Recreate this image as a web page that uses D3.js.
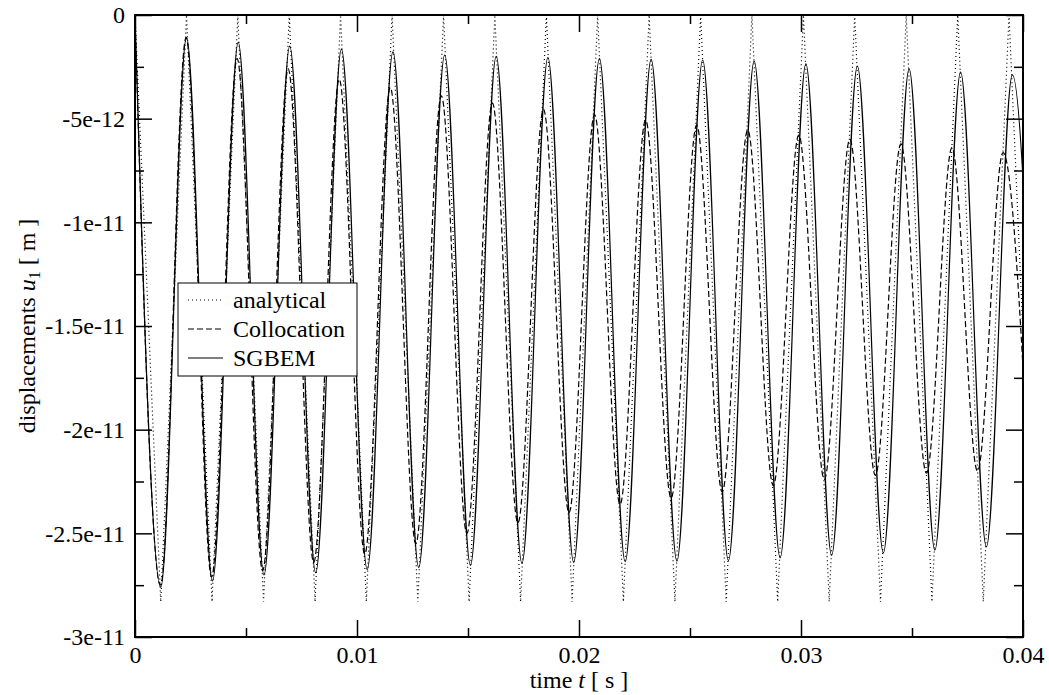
<!DOCTYPE html>
<html>
<head>
<meta charset="utf-8">
<script src="https://cdn.jsdelivr.net/npm/d3@7"></script>
<style type="text/css">
body { margin: 0; background: #fff; }
.line { fill: none; stroke: #000; stroke-width: 1.2; }
</style>
</head>
<body>
<div id="chart"></div>
<script>

// extremum points (time in s, displacement in m)
var analyticalT = [0, 0.00116, 0.00232, 0.00347, 0.00463, 0.00579, 0.00695, 0.00811, 0.00926, 0.01042,
  0.01158, 0.01274, 0.01390, 0.01505, 0.01621, 0.01737, 0.01853, 0.01969, 0.02084, 0.02200,
  0.02316, 0.02432, 0.02548, 0.02663, 0.02779, 0.02895, 0.03011, 0.03127, 0.03242, 0.03358,
  0.03474, 0.03590, 0.03706, 0.03821, 0.03937, 0.04053];
var analyticalU = [0, -28.3e-12, 0, -28.3e-12, 0, -28.3e-12, 0, -28.3e-12, 0, -28.3e-12,
  0, -28.3e-12, 0, -28.3e-12, 0, -28.3e-12, 0, -28.3e-12, 0, -28.3e-12,
  0, -28.3e-12, 0, -28.3e-12, 0, -28.3e-12, 0, -28.3e-12, 0, -28.3e-12,
  0, -28.3e-12, 0, -28.3e-12, 0, -28.3e-12];

var collocationT = [0, 0.00115, 0.00230, 0.00345, 0.00460, 0.00575, 0.00690, 0.00805, 0.00920, 0.01035,
  0.01150, 0.01265, 0.01380, 0.01495, 0.01610, 0.01725, 0.01840, 0.01955, 0.02070, 0.02185,
  0.02300, 0.02415, 0.02530, 0.02645, 0.02760, 0.02875, 0.02990, 0.03105, 0.03220, 0.03335,
  0.03450, 0.03565, 0.03680, 0.03795, 0.03910, 0.04025];
var collocationU = [0, -27.5e-12, -1.1e-12, -27.1e-12, -2.1e-12, -26.8e-12, -2.6e-12, -26.4e-12, -3.1e-12, -26.0e-12,
  -3.5e-12, -25.5e-12, -3.9e-12, -25.0e-12, -4.25e-12, -24.5e-12, -4.55e-12, -24.0e-12, -4.8e-12, -23.6e-12,
  -5.07e-12, -23.3e-12, -5.31e-12, -23.0e-12, -5.55e-12, -22.7e-12, -5.79e-12, -22.4e-12, -6.0e-12, -22.2e-12,
  -6.22e-12, -22.1e-12, -6.4e-12, -22.0e-12, -6.64e-12, -21.9e-12];

var sgbemT = [0, 0.00116, 0.00232, 0.00349, 0.00465, 0.00581, 0.00697, 0.00814, 0.00930, 0.01046,
  0.01162, 0.01278, 0.01395, 0.01511, 0.01627, 0.01743, 0.01860, 0.01976, 0.02092, 0.02208,
  0.02325, 0.02441, 0.02557, 0.02673, 0.02789, 0.02906, 0.03022, 0.03138, 0.03254, 0.03371,
  0.03487, 0.03603, 0.03719, 0.03835, 0.03952, 0.04068];
var sgbemU = [0, -27.6e-12, -1.08e-12, -27.3e-12, -1.32e-12, -27.0e-12, -1.5e-12, -26.9e-12, -1.65e-12, -26.75e-12,
  -1.78e-12, -26.65e-12, -1.93e-12, -26.55e-12, -2.0e-12, -26.45e-12, -2.05e-12, -26.4e-12, -2.1e-12, -26.37e-12,
  -2.14e-12, -26.34e-12, -2.17e-12, -26.32e-12, -2.22e-12, -26.18e-12, -2.36e-12, -26.06e-12, -2.47e-12, -25.94e-12,
  -2.6e-12, -25.81e-12, -2.75e-12, -25.65e-12, -2.89e-12, -25.5e-12];

var xMajorTicks = [0, 0.01, 0.02, 0.03, 0.04];
var xMinorTicks = [0.005, 0.015, 0.025, 0.035];
var xTickLabels = ["0", "0.01", "0.02", "0.03", "0.04"];
var yMajorTicks = [0, -5e-12, -1e-11, -1.5e-11, -2e-11, -2.5e-11, -3e-11];
var yMinorTicks = [-2.5e-12, -7.5e-12, -1.25e-11, -1.75e-11, -2.25e-11, -2.75e-11];
var yTickLabels = ["0", "-5e-12", "-1e-11", "-1.5e-11", "-2e-11", "-2.5e-11", "-3e-11"];

var seriesNames = ["analytical", "Collocation", "SGBEM"];
var seriesDash = ["1,3", "6,3", null];

var FONT = "'Liberation Serif', serif";

var W = 1049, H = 695;
var margin = {top: 15, right: 26, bottom: 58, left: 135},
  width = W - margin.left - margin.right,
  height = H - margin.top - margin.bottom;

var svg = d3.select("#chart").append("svg")
  .attr("width", W).attr("height", H)
  .append("g")
  .attr("transform", "translate(" + margin.left + "," + margin.top + ")");

var x = d3.scaleLinear().domain([0, 0.04]).range([0, width]);
var y = d3.scaleLinear().domain([-3e-11, 0]).range([height, 0]);

svg.append("clipPath").attr("id", "clip")
  .append("rect").attr("width", width).attr("height", height);

function pts(T, U) {
  return T.map(function(t, i) { return [t, U[i]]; });
}

var series = [
  { data: pts(analyticalT, analyticalU), curve: d3.curveLinear },
  { data: pts(collocationT, collocationU), curve: d3.curveMonotoneX },
  { data: pts(sgbemT, sgbemU), curve: d3.curveMonotoneX }
];

series.forEach(function(s, i) {
  svg.append("path")
    .datum(s.data)
    .attr("class", "line")
    .attr("clip-path", "url(#clip)")
    .attr("stroke-dasharray", seriesDash[i])
    .attr("d", d3.line()
      .x(function(d) { return x(d[0]); })
      .y(function(d) { return y(d[1]); })
      .curve(s.curve));
});

// axes: ticks point inward on all four sides
function fmtX(d) { return xTickLabels[xMajorTicks.indexOf(d)]; }
function fmtY(d) { return yTickLabels[yMajorTicks.indexOf(d)]; }

function styleAxis(g) {
  g.attr("font-family", null);
  g.selectAll(".tick line").attr("stroke", "#000").attr("stroke-width", 1.5);
  g.selectAll(".tick text").attr("fill", "#000").style("font-family", FONT).style("font-size", "24px");
}

svg.append("g").attr("transform", "translate(0," + height + ")")
  .call(d3.axisBottom(x).tickValues(xMajorTicks).tickSize(-17).tickPadding(9).tickFormat(fmtX)).call(styleAxis);
svg.append("g").attr("transform", "translate(0," + height + ")")
  .call(d3.axisBottom(x).tickValues(xMinorTicks).tickSize(-9).tickFormat("")).call(styleAxis);
svg.append("g")
  .call(d3.axisTop(x).tickValues(xMajorTicks).tickSize(-17).tickFormat("")).call(styleAxis);
svg.append("g")
  .call(d3.axisTop(x).tickValues(xMinorTicks).tickSize(-9).tickFormat("")).call(styleAxis);

svg.append("g")
  .call(d3.axisLeft(y).tickValues(yMajorTicks).tickSize(-17).tickPadding(10).tickFormat(fmtY)).call(styleAxis);
svg.append("g")
  .call(d3.axisLeft(y).tickValues(yMinorTicks).tickSize(-9).tickFormat("")).call(styleAxis);
svg.append("g").attr("transform", "translate(" + width + ",0)")
  .call(d3.axisRight(y).tickValues(yMajorTicks).tickSize(-17).tickFormat("")).call(styleAxis);
svg.append("g").attr("transform", "translate(" + width + ",0)")
  .call(d3.axisRight(y).tickValues(yMinorTicks).tickSize(-9).tickFormat("")).call(styleAxis);

svg.selectAll(".domain").remove();

svg.append("rect")
  .attr("width", width).attr("height", height)
  .attr("fill", "none").attr("stroke", "#000").attr("stroke-width", 2);

// axis titles
var xt = svg.append("text")
  .attr("x", width / 2).attr("y", height + 51)
  .attr("text-anchor", "middle").style("font-family", FONT).style("font-size", "24px");
xt.append("tspan").text("time ");
xt.append("tspan").attr("font-style", "italic").text("t");
xt.append("tspan").text(" [ s ]");

var yt = svg.append("text")
  .attr("transform", "translate(" + (35 - margin.left) + "," + (height / 2) + ") rotate(-90)")
  .attr("text-anchor", "middle").style("font-family", FONT).style("font-size", "24px");
yt.append("tspan").text("displacements ");
yt.append("tspan").attr("font-style", "italic").text("u");
yt.append("tspan").style("font-size", "16px").attr("dy", 5).text("1");
yt.append("tspan").attr("dy", -5).text(" [ m ]");

// legend
var lg = svg.append("g").attr("transform", "translate(" + (178 - margin.left) + "," + (283 - margin.top) + ")");
lg.append("rect").attr("width", 179).attr("height", 93)
  .attr("fill", "#fff").attr("stroke", "#000").attr("stroke-width", 1);
seriesNames.forEach(function(n, i) {
  var cy = 17 + i * 29;
  lg.append("line")
    .attr("x1", 10).attr("x2", 45).attr("y1", cy).attr("y2", cy)
    .attr("stroke", "#000").attr("stroke-width", 1.2)
    .attr("stroke-dasharray", seriesDash[i]);
  lg.append("text")
    .attr("x", 55).attr("y", cy).attr("dy", "0.35em")
    .style("font-family", FONT).style("font-size", "24px").text(n);
});

</script>
</body>
</html>
